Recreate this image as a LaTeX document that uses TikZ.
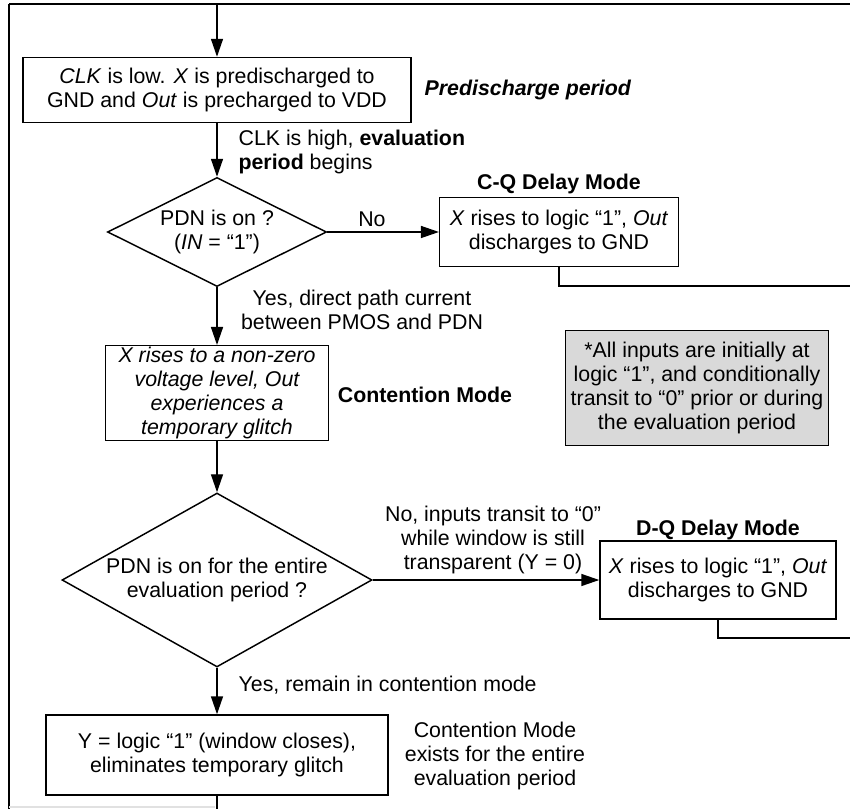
\documentclass[tikz,border=0pt]{standalone}
\usepackage{fontspec}
\setmainfont{Liberation Sans}
\usetikzlibrary{shapes,arrows.meta,positioning,calc}
\definecolor{notegray}{RGB}{217,217,217}
\definecolor{edgegray}{RGB}{225,225,225}
\newcommand{\flowsize}{\fontsize{16}{18}\selectfont}

\begin{document}
\begin{tikzpicture}[x=0.75pt,y=-0.75pt,font=\flowsize,
  box/.style={draw,line width=1.1pt,align=center,inner sep=2pt},
  decision/.style={draw,diamond,line width=1.1pt,align=center,inner sep=0pt},
  flow/.style={line width=1.1pt,-{Triangle[length=13.5pt,width=9pt]}},
  wire/.style={line width=1.1pt},
  remark/.style={draw=none,align=center,inner sep=1pt}]

\useasboundingbox (0,0) rectangle (850,809);

% Frame
\coordinate (frameTL) at (9,4);
\coordinate (frameTR) at (850,4);
\coordinate (frameBL) at (9,809);
\coordinate (entry) at (217,4);
\draw[line width=2pt] (frameTL) -- (frameTR);
\draw[wire] (frameTL) -- (frameBL);
\coordinate (edgeA) at (9,807);
\coordinate (edgeB) at (215,807);
\draw[edgegray,line width=1pt] (edgeA) -- (edgeB);

% Predischarge
\node[box,minimum width=291pt,minimum height=48.75pt] (pre) at (217,90)
  {\textit{CLK} is low. \textit{X} is predischarged to\\GND and \textit{Out} is precharged to VDD};
\node[remark] (preLbl) at (528,90) {\textbf{\textit{Predischarge period}}};
\draw[flow] (entry) -- (pre);

% First check
\node[decision,aspect=2,minimum width=164.25pt,minimum height=81.75pt] (pdn) at (217,232)
  {PDN is on ?\\(\textit{IN} = “1”)};
\draw[flow] (pre) -- (pdn);
\node[remark,align=left,anchor=west] (evalLbl) at (237,152) {CLK is high, \textbf{evaluation}\\\textbf{period} begins};

% C-Q delay
\node[box,minimum width=179pt,minimum height=52pt] (cq) at (559,232)
  {\textit{X} rises to logic “1”, \textit{Out}\\discharges to GND};
\node[remark] (cqTitle) at (559,184) {\textbf{C-Q Delay Mode}};
\draw[flow] (pdn) -- node[above,pos=0.4] (noA) {No} (cq);
\coordinate (cqExit) at (850,286);
\draw[wire] (cq) |- (cqExit);

% Contention
\node[remark] (yesA) at (362,310) {Yes, direct path current\\between PMOS and PDN};
\node[box,font=\flowsize\itshape,inner sep=1pt,minimum width=167pt,minimum height=70.5pt] (glitch) at (217,393)
  {X rises to a non-zero\\voltage level, Out\\experiences a\\temporary glitch};
\draw[flow] (pdn) -- (glitch);
\node[remark] (contLbl) at (425,395) {\textbf{Contention Mode}};

% Note
\node[box,fill=notegray,minimum width=197pt,minimum height=86.25pt] (note) at (697,388)
  {*All inputs are initially at\\logic “1”, and conditionally\\transit to “0” prior or during\\the evaluation period};

% Second check
\node[decision,aspect=1.78,minimum width=232.5pt,minimum height=130.5pt] (entire) at (217,580)
  {PDN is on for the entire\\evaluation period ?};
\draw[flow] (glitch) -- (entire);

% D-Q delay
\node[box,minimum width=177pt,minimum height=58.5pt] (dq) at (718,580)
  {\textit{X} rises to logic “1”, \textit{Out}\\discharges to GND};
\node[remark] (dqTitle) at (718,530) {\textbf{D-Q Delay Mode}};
\node[remark] (noB) at (493,540) {No, inputs transit to “0”\\while window is still\\transparent (Y = 0)};
\draw[flow] (entire) -- (dq);
\coordinate (dqExit) at (850,638);
\draw[wire] (dq) |- (dqExit);

% Window closes
\node[remark,anchor=west] (yesB) at (237,685) {Yes, remain in contention mode};
\node[box,minimum width=256.5pt,minimum height=60pt] (closes) at (217,755)
  {Y = logic “1” (window closes),\\eliminates temporary glitch};
\draw[flow] (entire) -- (closes);
\node[remark] (contEnd) at (495,756) {Contention Mode\\exists for the entire\\evaluation period};
\coordinate (exit) at (217,809);
\draw[wire] (closes) -- (exit);

\end{tikzpicture}
\end{document}
